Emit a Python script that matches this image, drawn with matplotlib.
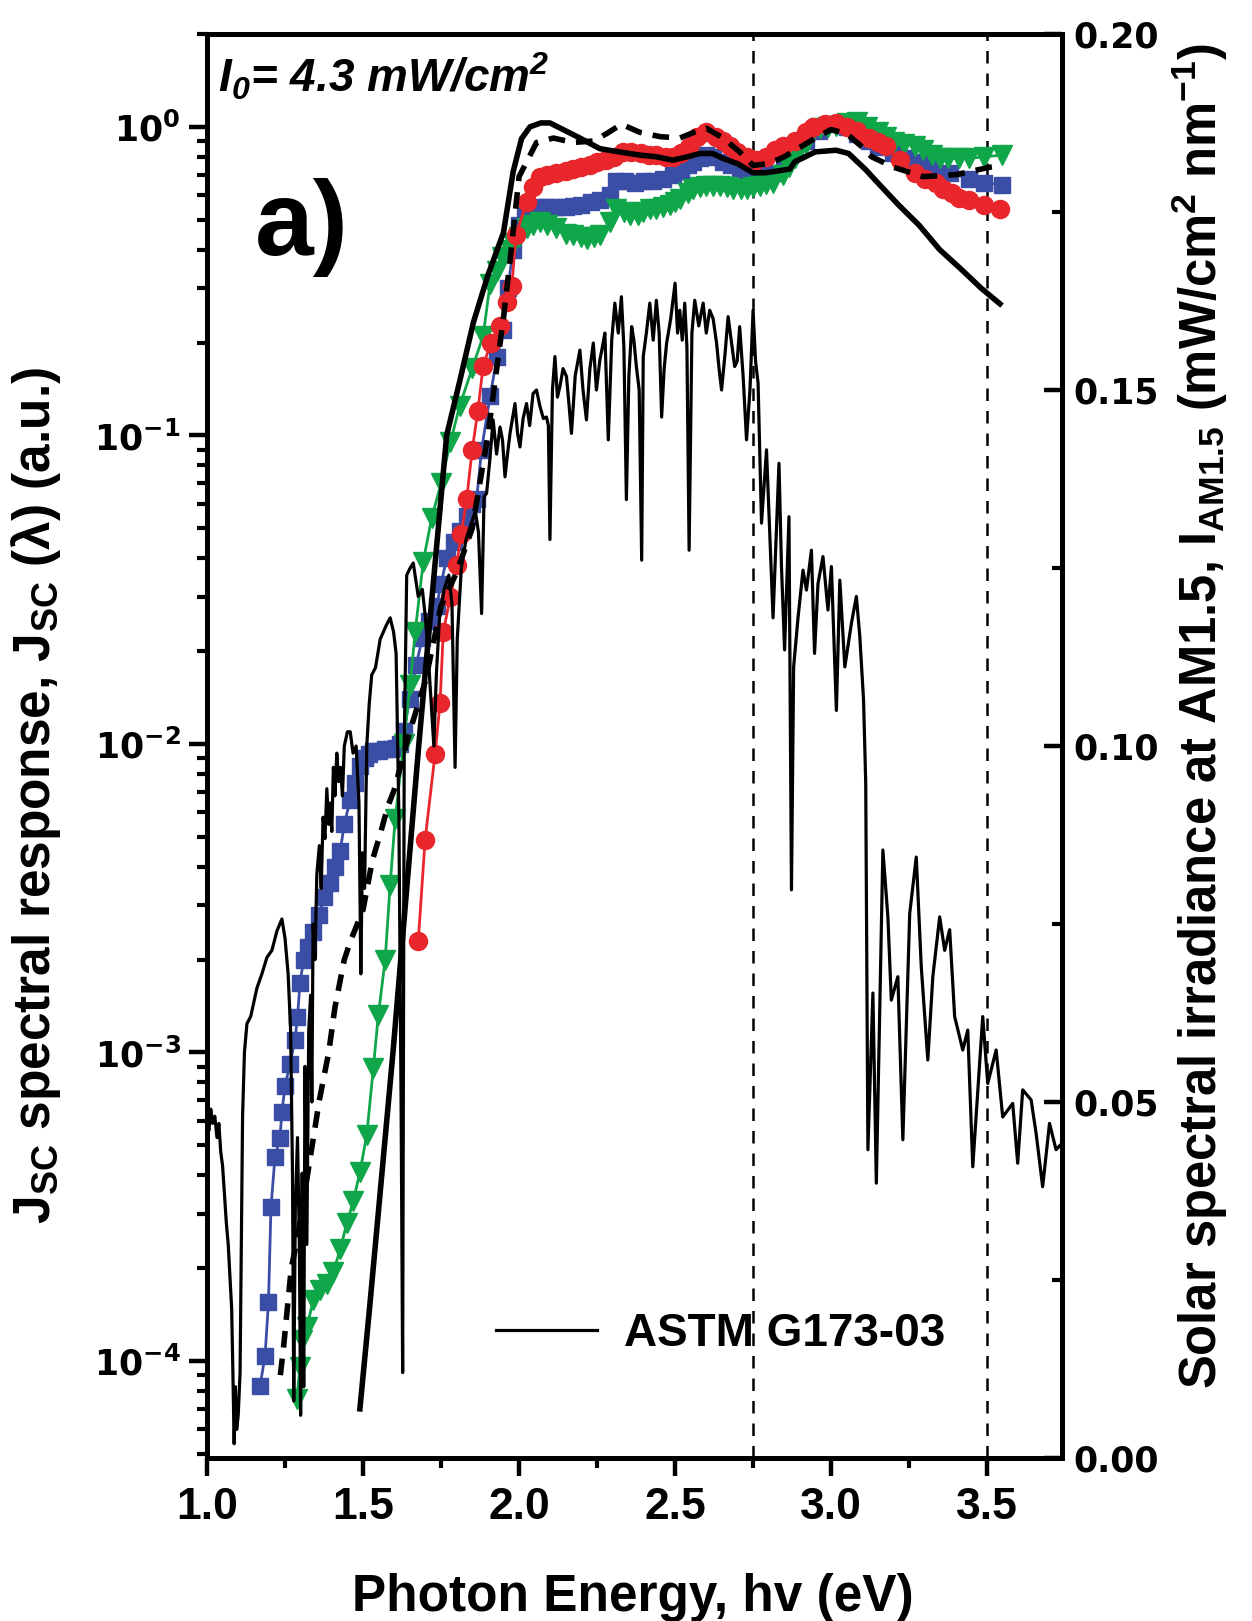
"""
Spectral response of the cells compared with the AM1.5 solar spectrum.
"""
import matplotlib
matplotlib.use("Agg")
import matplotlib.pyplot as plt
from matplotlib.font_manager import FontProperties
from matplotlib.ticker import FixedLocator, NullFormatter

# ---- response curves (photon energy eV, normalised Jsc) ----
solid_e = [1.49, 1.52, 1.55, 1.596, 1.64, 1.679, 1.72, 1.768, 1.81, 1.854, 1.90, 1.95,
           1.981, 2.008, 2.035, 2.07, 2.099, 2.15, 2.195, 2.259, 2.32, 2.387, 2.44, 2.493,
           2.54, 2.579, 2.62, 2.654, 2.70, 2.75, 2.79, 2.83, 2.868, 2.883, 2.95, 3.016,
           3.056, 3.109, 3.149, 3.215, 3.282, 3.348, 3.415, 3.481, 3.541]
solid_v = [7e-5, 1.45e-4, 3.1e-4, 1e-3, 3.4e-3, 1e-2, 0.029, 0.1, 0.15, 0.233, 0.33, 0.454,
           0.715, 0.916, 1.0, 1.03, 1.03, 0.97, 0.92, 0.85, 0.83, 0.81, 0.80, 0.78,
           0.80, 0.82, 0.82, 0.79, 0.76, 0.71, 0.71, 0.72, 0.73, 0.77, 0.83, 0.84,
           0.82, 0.73, 0.66, 0.56, 0.48, 0.40, 0.347, 0.30, 0.267]

dash_e = [1.235, 1.245, 1.27, 1.29, 1.36, 1.39, 1.41, 1.44, 1.46, 1.50, 1.53, 1.555, 1.58,
          1.60, 1.65, 1.70, 1.75, 1.80, 1.85, 1.90, 1.95, 1.97, 2.00, 2.03, 2.056, 2.11,
          2.174, 2.238, 2.28, 2.328, 2.387, 2.451, 2.515, 2.56, 2.60, 2.654, 2.707, 2.75,
          2.80, 2.85, 2.95, 3.00, 3.05, 3.10, 3.13, 3.20, 3.295, 3.40, 3.508, 3.55]
dash_v = [9e-5, 1.1e-4, 2.0e-4, 2.5e-4, 7e-4, 1e-3, 1.4e-3, 2e-3, 2.3e-3, 2.9e-3, 4.2e-3,
          5.1e-3, 6.3e-3, 7.1e-3, 0.011, 0.016, 0.028, 0.036, 0.05, 0.10, 0.24, 0.36, 0.69,
          0.79, 0.89, 0.92, 0.89, 0.90, 0.95, 1.02, 0.96, 0.93, 0.92, 0.96, 0.99, 0.92,
          0.83, 0.75, 0.76, 0.80, 0.92, 0.98, 0.95, 0.86, 0.80, 0.74, 0.69, 0.70, 0.74, 0.75]

blue_e = [1.170, 1.186, 1.197, 1.205, 1.218, 1.234, 1.240, 1.250, 1.266, 1.282, 1.29, 1.298,
          1.31, 1.325, 1.341, 1.36, 1.375, 1.394, 1.41, 1.427, 1.44, 1.459, 1.475, 1.49,
          1.505, 1.52, 1.533, 1.55, 1.57, 1.59, 1.605, 1.619, 1.63, 1.65, 1.67, 1.69, 1.71,
          1.736, 1.75, 1.768, 1.79, 1.81, 1.832, 1.85, 1.864, 1.88, 1.907, 1.93, 1.949,
          1.965, 1.98, 2.00, 2.02, 2.04, 2.067, 2.09, 2.12, 2.15, 2.174, 2.20, 2.23, 2.26,
          2.29, 2.312, 2.34, 2.37, 2.40, 2.43, 2.46, 2.494, 2.52, 2.54, 2.558, 2.58, 2.60,
          2.62, 2.654, 2.68, 2.707, 2.73, 2.75, 2.78, 2.814, 2.85, 2.883, 2.92, 2.96, 3.016,
          3.05, 3.083, 3.12, 3.15, 3.20, 3.24, 3.282, 3.33, 3.38, 3.441, 3.49, 3.548]
blue_v = [8.3e-5, 1.04e-4, 1.55e-4, 3.15e-4, 4.6e-4, 5.3e-4, 6.4e-4, 7.8e-4, 9.2e-4, 1.1e-3,
          1.3e-3, 1.68e-3, 2.0e-3, 2.2e-3, 2.45e-3, 2.8e-3, 3.2e-3, 3.55e-3, 4.0e-3, 4.5e-3,
          5.5e-3, 6.6e-3, 7.5e-3, 8.5e-3, 9.0e-3, 9.3e-3, 9.5e-3, 9.5e-3, 9.6e-3, 9.6e-3,
          9.7e-3, 0.0100, 0.011, 0.014, 0.018, 0.022, 0.025, 0.028, 0.033, 0.040, 0.045,
          0.049, 0.055, 0.060, 0.062, 0.09, 0.134, 0.18, 0.22, 0.30, 0.40, 0.48, 0.52, 0.53,
          0.55, 0.55, 0.55, 0.55, 0.555, 0.56, 0.57, 0.58, 0.60, 0.67, 0.67, 0.66, 0.67,
          0.67, 0.68, 0.70, 0.72, 0.75, 0.77, 0.79, 0.81, 0.80, 0.77, 0.75, 0.73, 0.72,
          0.71, 0.71, 0.71, 0.78, 0.83, 0.90, 0.97, 1.02, 1.0, 0.95, 0.90, 0.86, 0.82, 0.79,
          0.77, 0.74, 0.71, 0.68, 0.66, 0.65]

red_e = [1.677, 1.699, 1.731, 1.747, 1.757, 1.78, 1.80, 1.815, 1.832, 1.85, 1.868, 1.885,
         1.91, 1.939, 1.96, 1.977, 1.99, 2.024, 2.045, 2.067, 2.09, 2.12, 2.15, 2.174, 2.20,
         2.227, 2.25, 2.28, 2.305, 2.333, 2.36, 2.39, 2.415, 2.44, 2.47, 2.494, 2.52, 2.545,
         2.57, 2.60, 2.63, 2.653, 2.675, 2.70, 2.73, 2.76, 2.79, 2.82, 2.846, 2.883, 2.92,
         2.943, 2.98, 3.016, 3.05, 3.083, 3.122, 3.15, 3.175, 3.22, 3.269, 3.30, 3.335, 3.36,
         3.388, 3.41, 3.441, 3.49, 3.541]
red_v = [2.3e-3, 4.9e-3, 9.3e-3, 0.0136, 0.023, 0.030, 0.038, 0.048, 0.062, 0.09, 0.12,
         0.168, 0.20, 0.227, 0.27, 0.306, 0.445, 0.57, 0.64, 0.687, 0.70, 0.71, 0.72, 0.73,
         0.74, 0.75, 0.77, 0.78, 0.80, 0.83, 0.83, 0.82, 0.81, 0.81, 0.80, 0.80, 0.82, 0.86,
         0.93, 0.96, 0.93, 0.90, 0.87, 0.83, 0.80, 0.78, 0.80, 0.84, 0.87, 0.90, 0.96, 1.0,
         1.02, 1.03, 1.0, 0.97, 0.92, 0.89, 0.87, 0.78, 0.71, 0.68, 0.66, 0.63, 0.61, 0.59,
         0.58, 0.56, 0.54]

green_e = [1.288, 1.298, 1.304, 1.32, 1.341, 1.362, 1.384, 1.405, 1.427, 1.448, 1.469, 1.49,
           1.512, 1.533, 1.549, 1.571, 1.587, 1.603, 1.63, 1.651, 1.667, 1.693, 1.72, 1.75,
           1.78, 1.81, 1.85, 1.885, 1.907, 1.928, 1.944, 1.971, 1.981, 2.00, 2.024, 2.045,
           2.067, 2.09, 2.12, 2.15, 2.174, 2.20, 2.217, 2.24, 2.259, 2.29, 2.312, 2.335,
           2.355, 2.38, 2.398, 2.42, 2.44, 2.46, 2.483, 2.50, 2.515, 2.54, 2.558, 2.58, 2.60,
           2.62, 2.643, 2.665, 2.686, 2.71, 2.729, 2.75, 2.771, 2.79, 2.814, 2.846, 2.865,
           2.883, 2.92, 2.963, 2.99, 3.016, 3.05, 3.083, 3.115, 3.149, 3.175, 3.202, 3.235,
           3.269, 3.295, 3.322, 3.35, 3.375, 3.41, 3.441, 3.49, 3.548]
green_v = [7.55e-5, 9.6e-5, 1.17e-4, 1.29e-4, 1.58e-4, 1.7e-4, 1.78e-4, 1.95e-4, 2.3e-4,
           2.8e-4, 3.3e-4, 4.1e-4, 5.4e-4, 8.9e-4, 1.32e-3, 2.0e-3, 3.5e-3, 5.7e-3, 0.010,
           0.0155, 0.023, 0.039, 0.054, 0.07, 0.095, 0.125, 0.165, 0.21, 0.31, 0.34, 0.38,
           0.40, 0.42, 0.44, 0.47, 0.48, 0.49, 0.48, 0.47, 0.45, 0.445, 0.44, 0.433, 0.44,
           0.445, 0.49, 0.54, 0.53, 0.52, 0.52, 0.53, 0.54, 0.54, 0.55, 0.56, 0.57, 0.585,
           0.61, 0.63, 0.64, 0.645, 0.645, 0.645, 0.64, 0.63, 0.63, 0.63, 0.64, 0.645, 0.655,
           0.66, 0.70, 0.74, 0.79, 0.88, 0.99, 1.0, 1.01, 1.03, 1.04, 1.0, 0.96, 0.93, 0.89,
           0.88, 0.87, 0.84, 0.81, 0.79, 0.79, 0.79, 0.79, 0.80, 0.81]

# ---- ASTM G173-03 spectrum (eV, mW cm^-2 nm^-1), read in three pieces ----
sun_e_ir = [1.000, 1.006, 1.012, 1.018, 1.025, 1.032, 1.038, 1.044, 1.050, 1.056, 1.062,
            1.068, 1.074, 1.079, 1.083, 1.087, 1.091, 1.095, 1.100, 1.106, 1.110, 1.114,
            1.120, 1.128, 1.140, 1.160, 1.176, 1.192, 1.208, 1.224, 1.240, 1.250, 1.260,
            1.268, 1.274, 1.278, 1.283, 1.290, 1.296, 1.300, 1.305, 1.310, 1.314, 1.320,
            1.326, 1.332, 1.336, 1.340, 1.346, 1.352, 1.360, 1.366, 1.372, 1.378, 1.384,
            1.390, 1.395, 1.400, 1.405, 1.410, 1.416, 1.422, 1.428, 1.434, 1.440, 1.450,
            1.459, 1.468, 1.478, 1.487, 1.493, 1.498, 1.505, 1.512, 1.520, 1.528, 1.540,
            1.555, 1.565, 1.575, 1.587, 1.598, 1.606, 1.615, 1.622, 1.627, 1.632, 1.640,
            1.651, 1.661, 1.670, 1.677, 1.690, 1.700, 1.710, 1.720, 1.727, 1.735, 1.745,
            1.760, 1.775, 1.785, 1.795, 1.802, 1.815, 1.830, 1.845, 1.860, 1.870, 1.880,
            1.888]
sun_i_ir = [0.048, 0.046, 0.049, 0.047, 0.048, 0.045, 0.047, 0.043, 0.041, 0.037, 0.033,
            0.030, 0.025, 0.021, 0.012, 0.002, 0.010, 0.004, 0.006, 0.012, 0.030, 0.048,
            0.057, 0.061, 0.062, 0.066, 0.068, 0.0703, 0.0713, 0.074, 0.0757, 0.073, 0.068,
            0.060, 0.040, 0.008, 0.035, 0.045, 0.030, 0.006, 0.040, 0.010, 0.055, 0.030,
            0.060, 0.065, 0.050, 0.075, 0.070, 0.082, 0.086, 0.080, 0.090, 0.087, 0.094,
            0.089, 0.092, 0.088, 0.097, 0.093, 0.099, 0.095, 0.097, 0.093, 0.100, 0.102,
            0.102, 0.099, 0.100, 0.092, 0.068, 0.085, 0.080, 0.100, 0.106, 0.110, 0.111,
            0.115, 0.116, 0.117, 0.118, 0.116, 0.113, 0.090, 0.050, 0.012, 0.100, 0.124,
            0.125, 0.1257, 0.123, 0.121, 0.122, 0.118, 0.112, 0.105, 0.100, 0.110, 0.118,
            0.122, 0.124, 0.120, 0.097, 0.115, 0.125, 0.129, 0.131, 0.133, 0.130, 0.1186,
            0.135]
sun_e_vis = [1.896, 1.906, 1.917, 1.928, 1.939, 1.947, 1.955, 1.963, 1.971, 1.979, 1.987,
             1.995, 2.003, 2.013, 2.024, 2.034, 2.045, 2.056, 2.067, 2.078, 2.088, 2.094,
             2.099, 2.107, 2.115, 2.123, 2.131, 2.141, 2.152, 2.160, 2.168, 2.180, 2.195,
             2.205, 2.216, 2.227, 2.238, 2.248, 2.259, 2.267, 2.275, 2.286, 2.297, 2.307,
             2.318, 2.328, 2.336, 2.344, 2.352, 2.361, 2.368, 2.376, 2.385, 2.393, 2.398,
             2.408, 2.419, 2.430, 2.440, 2.449, 2.457, 2.465, 2.473, 2.486, 2.500, 2.508,
             2.515, 2.523, 2.531, 2.538, 2.545, 2.554, 2.563, 2.576, 2.590, 2.600, 2.611,
             2.622, 2.633, 2.641, 2.649, 2.660, 2.670, 2.680, 2.691, 2.699, 2.707, 2.718,
             2.729, 2.740, 2.750, 2.758, 2.766]
sun_i_vis = [0.1355, 0.140, 0.1458, 0.141, 0.1448, 0.143, 0.1378, 0.141, 0.1439, 0.146,
             0.1481, 0.144, 0.142, 0.146, 0.1481, 0.145, 0.1495, 0.150, 0.1477, 0.146,
             0.1462, 0.145, 0.129, 0.150, 0.1547, 0.149, 0.1505, 0.153, 0.1519, 0.148,
             0.1439, 0.152, 0.1556, 0.150, 0.1458, 0.153, 0.1566, 0.150, 0.1542, 0.156,
             0.158, 0.143, 0.157, 0.1622, 0.158, 0.1631, 0.156, 0.1346, 0.152, 0.1589,
             0.157, 0.1533, 0.150, 0.1261, 0.1547, 0.158, 0.1622, 0.157, 0.1626, 0.158,
             0.1462, 0.153, 0.1566, 0.160, 0.165, 0.158, 0.1612, 0.157, 0.1622, 0.156,
             0.1275, 0.158, 0.1626, 0.159, 0.1622, 0.158, 0.1612, 0.160, 0.1566, 0.153,
             0.150, 0.155, 0.1603, 0.157, 0.1533, 0.154, 0.1589, 0.152, 0.143, 0.150,
             0.1612, 0.154, 0.151]
sun_e_uv = [2.777, 2.793, 2.814, 2.833, 2.841, 2.851, 2.865, 2.873, 2.880, 2.894, 2.910,
            2.921, 2.937, 2.947, 2.958, 2.974, 2.990, 3.001, 3.017, 3.028, 3.044, 3.065,
            3.081, 3.092, 3.104, 3.111, 3.118, 3.134, 3.145, 3.161, 3.166, 3.182, 3.193,
            3.214, 3.230, 3.252, 3.273, 3.289, 3.310, 3.326, 3.348, 3.364, 3.380, 3.396,
            3.422, 3.438, 3.454, 3.486, 3.502, 3.529, 3.550, 3.582, 3.598, 3.614, 3.641,
            3.657, 3.678, 3.700, 3.721, 3.740]
sun_i_uv = [0.1313, 0.1416, 0.118, 0.1397, 0.1252, 0.1135, 0.1322, 0.0798, 0.1111, 0.118,
            0.1247, 0.1219, 0.1275, 0.113, 0.1228, 0.1266, 0.1191, 0.1252, 0.105, 0.1233,
            0.1111, 0.1172, 0.121, 0.1154, 0.1065, 0.0948, 0.0433, 0.0653, 0.0386, 0.0746,
            0.0854, 0.076, 0.0643, 0.0676, 0.0447, 0.0765, 0.0844, 0.069, 0.0559, 0.0676,
            0.076, 0.0713, 0.0742, 0.062, 0.0573, 0.0601, 0.0409, 0.062, 0.0526, 0.0573,
            0.0479, 0.0498, 0.0414, 0.0517, 0.0503, 0.0456, 0.0381, 0.047, 0.0433, 0.0442]

cut_lines = [2.75, 3.5]
x_ticks = [1.0, 1.5, 2.0, 2.5, 3.0, 3.5]
y_ticks = [1e-4, 1e-3, 1e-2, 1e-1, 1e0]
y_tick_labels = [r"$\mathdefault{10^{-4}}$", r"$\mathdefault{10^{-3}}$",
                 r"$\mathdefault{10^{-2}}$", r"$\mathdefault{10^{-1}}$",
                 r"$\mathdefault{10^{0}}$"]
r_ticks = [0.0, 0.05, 0.10, 0.15, 0.20]
r_tick_labels = ["0.00", "0.05", "0.10", "0.15", "0.20"]

RED, BLUE, GREEN = "#e8262c", "#3a4ea6", "#10a64a"


def arial(size, style="normal"):
    return FontProperties(family=["Liberation Sans", "DejaVu Sans"], weight="bold",
                          style=style, size=size)


def wide(size):
    return FontProperties(family="DejaVu Sans", weight="bold", size=size)


fig = plt.figure(figsize=(12.52, 16.21), dpi=100)
ax = fig.add_axes([207 / 1252, 1 - 1458 / 1621, (1062 - 207) / 1252, (1458 - 34) / 1621])
ax.set_yscale("log")

ax.plot(blue_e, blue_v, color=BLUE, lw=2, marker="s", ms=12, mec=BLUE, zorder=3)
ax.plot(green_e, green_v, color=GREEN, lw=2, marker="v", ms=15, mec=GREEN, zorder=3)
ax.plot(red_e, red_v, color=RED, lw=2, marker="o", ms=13, mec=RED, zorder=4)
ax.plot(dash_e, dash_v, color="black", lw=4, ls=(0, (3, 2)), zorder=5)
ax.plot(solid_e, solid_v, color="black", lw=4, zorder=5)
for xv in cut_lines:
    ax.axvline(xv, color="black", lw=1.8, ls=(0, (5, 4)), zorder=1)

ax.set_xlim(1.0, 3.74)
ax.set_ylim(4.85e-5, 2.0)
ax.yaxis.set_major_locator(FixedLocator(y_ticks))
minors = [m * 10.0 ** p for p in range(-5, 1) for m in range(2, 10)]
ax.yaxis.set_minor_locator(FixedLocator(minors))
ax.yaxis.set_minor_formatter(NullFormatter())
ax.set_yticks(y_ticks, y_tick_labels, fontproperties=wide(25))
ax.set_xticks(x_ticks, [f"{v:.1f}" for v in x_ticks], fontproperties=arial(32))
ax.set_xticks([1.25, 1.75, 2.25, 2.75, 3.25], minor=True)
ax.tick_params(which="major", direction="out", length=13, width=3.2, pad=8)
ax.tick_params(which="minor", direction="out", length=7, width=3.0)
ax.tick_params(axis="y", which="major", pad=6)
for s in ax.spines.values():
    s.set_linewidth(3.6)

ax2 = ax.twinx()
sun, = ax2.plot(sun_e_ir + sun_e_vis + sun_e_uv, sun_i_ir + sun_i_vis + sun_i_uv,
                color="black", lw=2.3, zorder=2)
ax2.set_ylim(0.0, 0.2)
ax2.set_yticks(r_ticks, r_tick_labels, fontproperties=wide(25))
ax2.set_yticks([0.025, 0.075, 0.125, 0.175], minor=True)
ax2.tick_params(which="major", direction="in", length=13, width=3.2, pad=8)
ax2.tick_params(which="minor", direction="in", length=7, width=3.0)
for s in ax2.spines.values():
    s.set_linewidth(3.6)

ax2.legend([sun], ["ASTM G173-03"], loc="center left", bbox_to_anchor=(0.338, 0.087),
           frameon=False, handlelength=2.2, handletextpad=0.6, borderpad=0,
           borderaxespad=0, prop=arial(33))

fig.text(633 / 1252, 1 - 1597 / 1621, "Photon Energy, hv (eV)", ha="center", va="center",
         fontproperties=arial(37))
fig.text(36 / 1252, 1 - 796 / 1621,
         r"J$_{\mathdefault{SC}}$ spectral response, J$_{\mathdefault{SC}}$ (λ) (a.u.)",
         rotation=90, ha="center", va="center", fontproperties=arial(37))
fig.text(1200 / 1252, 1 - 716 / 1621,
         r"Solar spectral irradiance at AM1.5, I$_{\mathdefault{AM1.5}}$ "
         r"(mW/cm$^{\mathdefault{2}}$ nm$^{\mathdefault{-1}}$)",
         rotation=90, ha="center", va="center", fontproperties=arial(36.5))
fig.text(218 / 1252, 1 - 92 / 1621, r"I$_{\mathdefault{0}}$= 4.3 mW/cm$^{\mathdefault{2}}$",
         ha="left", va="baseline", fontproperties=arial(33, "italic"))
fig.text(255 / 1252, 1 - 255 / 1621, "a)", ha="left", va="baseline",
         fontproperties=arial(76))

fig.savefig("out.png", dpi=100)
